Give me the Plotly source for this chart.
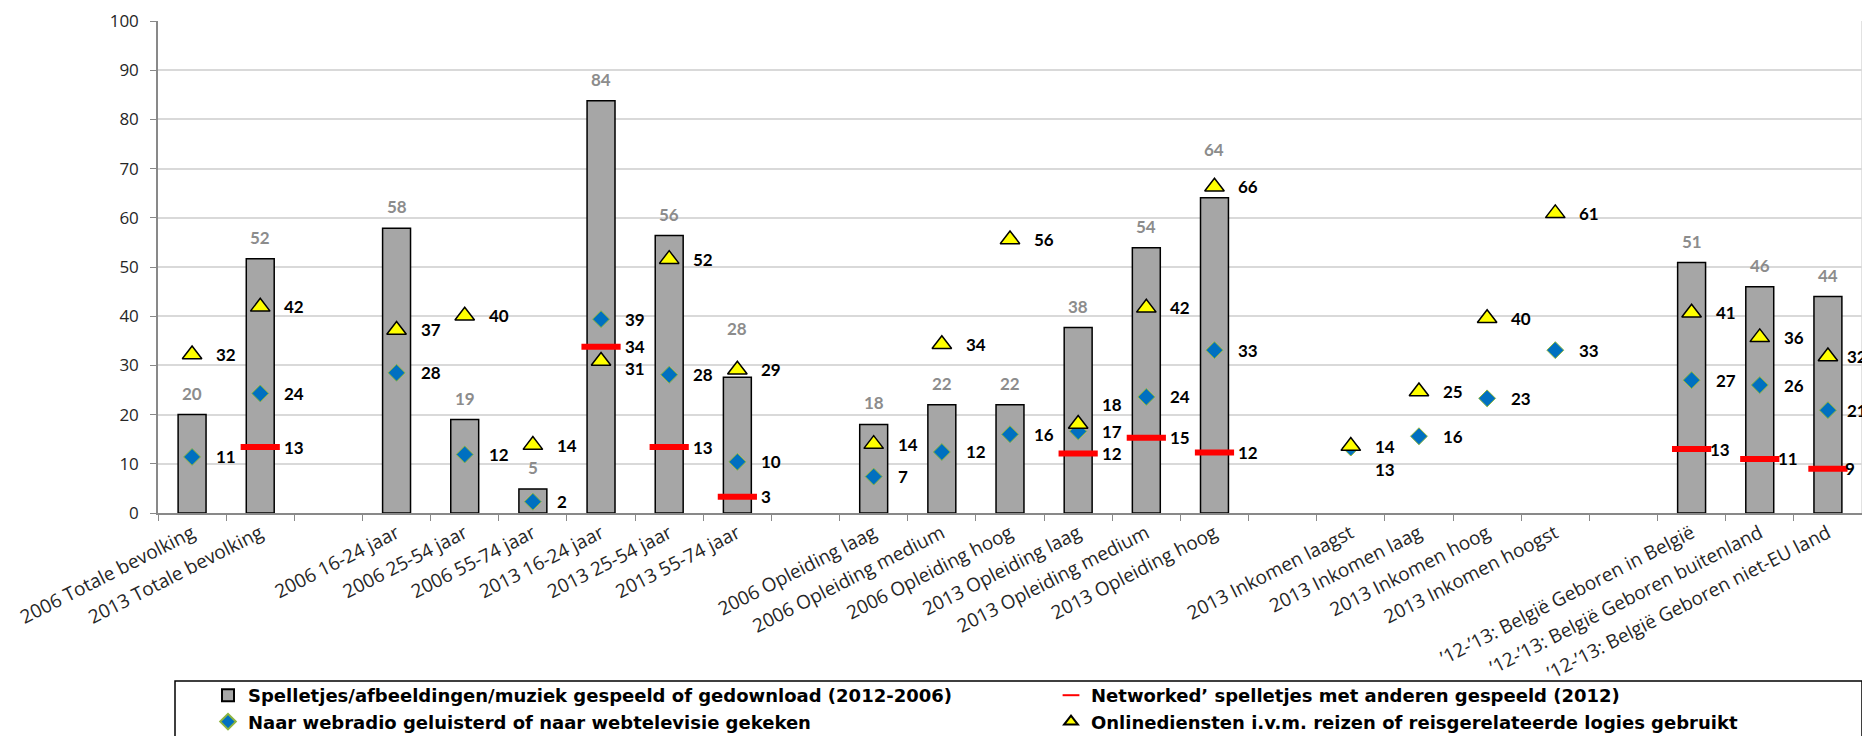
import plotly.graph_objects as go

categories = [
    "2006 Totale bevolking", "2013 Totale bevolking", " ",
    "2006 16-24 jaar", "2006 25-54 jaar", "2006 55-74 jaar",
    "2013 16-24 jaar", "2013 25-54 jaar", "2013 55-74 jaar", "  ",
    "2006 Opleiding laag", "2006 Opleiding medium", "2006 Opleiding hoog",
    "2013 Opleiding laag", "2013 Opleiding medium", "2013 Opleiding hoog", "   ",
    "2013 Inkomen laagst", "2013 Inkomen laag", "2013 Inkomen hoog", "2013 Inkomen hoogst", "    ",
    "’12-’13: België Geboren in België", "’12-’13: België Geboren buitenland",
    "’12-’13: België Geboren niet-EU land",
]

spelletjes = [20.0, 51.7, None, 57.9, 19.0, 4.9, 83.8, 56.4, 27.6, None,
              18.0, 22.0, 22.0, 37.7, 53.9, 64.1, None,
              None, None, None, None, None, 50.9, 46.0, 44.0]
networked = [None, 13.4, None, None, None, None, 33.8, 13.4, 3.3, None,
             None, None, None, 12.1, 15.3, 12.3, None,
             None, None, None, None, None, 13.0, 11.0, 9.0]
webradio = [11.4, 24.3, None, 28.5, 11.9, 2.3, 39.4, 28.1, 10.4, None,
            7.4, 12.4, 16.0, 16.6, 23.6, 33.1, None,
            13.3, 15.6, 23.3, 33.1, None, 27.0, 26.0, 20.9]
online = [32.2, 41.9, None, 37.2, 40.1, 13.8, 30.9, 51.6, 29.1, None,
          14.0, 34.3, 55.6, 18.1, 41.7, 66.3, None,
          13.6, 24.7, 39.6, 60.9, None, 40.7, 35.7, 31.8]

names = [
    "Spelletjes/afbeeldingen/muziek gespeeld of gedownload (2012-2006)",
    "Networked’ spelletjes met anderen gespeeld (2012)",
    "Naar webradio geluisterd of naar webtelevisie gekeken",
    "Onlinediensten i.v.m. reizen of reisgerelateerde logies gebruikt",
]

LBL_FONT = "Lato"
AX_FONT = "Open Sans"
LEG_FONT = "DejaVu Sans"

fig = go.Figure()
fig.add_trace(go.Bar(
    x=categories, y=spelletjes, name=names[0], width=0.41,
    legend="legend", legendgroup="a",
    marker=dict(color="#a6a6a6", line=dict(color="#000000", width=1.5)),
))
fig.add_trace(go.Scatter(
    x=categories, y=networked, name=names[1], mode="markers",
    legend="legend2", legendgroup="b",
    marker=dict(symbol="line-ew", size=28, color="#ff0000",
                line=dict(color="#ff0000", width=6)),
))
fig.add_trace(go.Scatter(
    x=categories, y=webradio, name=names[2], mode="markers",
    legend="legend", legendgroup="c",
    marker=dict(symbol="diamond", size=13, color="#0070c0",
                line=dict(color="#8db53f", width=1)),
))
fig.add_trace(go.Scatter(
    x=categories, y=online, name=names[3], mode="markers",
    legend="legend2", legendgroup="d",
    marker=dict(symbol="triangle-up", size=17, color="#ffff00",
                line=dict(color="#000000", width=1.5)),
))

# label offsets (pixels) for a few manually placed labels
special_y = {("online", 6): -8, ("online", 13): 19, ("web", 17): -22}
bar_shift = {8: 27, 15: 27}

annotations = []
for i, v in enumerate(spelletjes):
    if v is None:
        continue
    annotations.append(dict(
        x=categories[i], y=v, text=f"{round(v)}", showarrow=False,
        xanchor="center", yanchor="bottom", yshift=9 + bar_shift.get(i, 0),
        font=dict(family=LBL_FONT, size=17, color="#8c8c8c", weight="bold"),
    ))
for key, series in (("net", networked), ("web", webradio), ("online", online)):
    for i, v in enumerate(series):
        if v is None:
            continue
        xs = 22
        if key == "net" and i >= 22:
            xs = 16
        if i == 24:
            xs = 17 if key != "net" else 15
        annotations.append(dict(
            x=categories[i], y=v, text=f"{round(v)}", showarrow=False,
            xanchor="left", yanchor="middle", xshift=xs,
            yshift=special_y.get((key, i), 0),
            font=dict(family=LBL_FONT, size=17, color="#000000", weight="bold"),
        ))

# page has an 8px body margin: figure is shrunk so that it ends at the window edge
OFF = 8
W, H = 1870 - OFF, 736 - OFF
L, R, T = 158 - OFF, 8, 21 - OFF
B = H - (513 - OFF)
pw, ph = W - L - R, H - T - B


def px(xfull):
    return (xfull - OFF - L) / pw


def py(yfull):
    return (H - B - (yfull - OFF)) / ph


shapes = [
    dict(type="line", xref="paper", yref="paper", x0=1, x1=1, y0=0, y1=1,
         line=dict(color="#d9d9d9", width=1.5)),
    dict(type="rect", xref="paper", yref="paper", x0=px(175), x1=px(1862),
         y0=py(681), y1=py(750), line=dict(color="#000000", width=1.5)),
]

legend_common = dict(
    orientation="v", xanchor="left", yanchor="top",
    traceorder="normal", itemsizing="constant",
    font=dict(family=LEG_FONT, size=18, color="#000000", weight="bold"),
    bgcolor="rgba(0,0,0,0)", tracegroupgap=1,
)

fig.update_layout(
    width=W, height=H,
    margin=dict(l=L, r=R, t=T, b=B, autoexpand=False),
    plot_bgcolor="#ffffff", paper_bgcolor="#ffffff",
    font=dict(family=AX_FONT, color="#262626"),
    showlegend=True,
    legend=dict(x=px(208), y=py(677), **legend_common),
    legend2=dict(x=px(1051), y=py(677), **legend_common),
    xaxis=dict(
        type="category", range=[-0.5, len(categories) - 0.5],
        tickangle=-27, tickson="boundaries", ticks="outside", ticklen=6,
        tickcolor="#898989", showline=True, linecolor="#898989", linewidth=2,
        showgrid=False, tickfont=dict(family=AX_FONT, size=19, color="#262626"),
        automargin=False,
    ),
    yaxis=dict(
        range=[0, 100], dtick=10, showgrid=True, gridcolor="#d9d9d9", gridwidth=1.5,
        showline=True, linecolor="#898989", linewidth=1.5, ticks="outside",
        ticklen=6, tickcolor="#898989", ticklabelstandoff=8,
        tickfont=dict(family=AX_FONT, size=17, color="#262626"), zeroline=False,
        automargin=False,
    ),
    annotations=annotations,
    shapes=shapes,
)

fig.write_html("out.html")
